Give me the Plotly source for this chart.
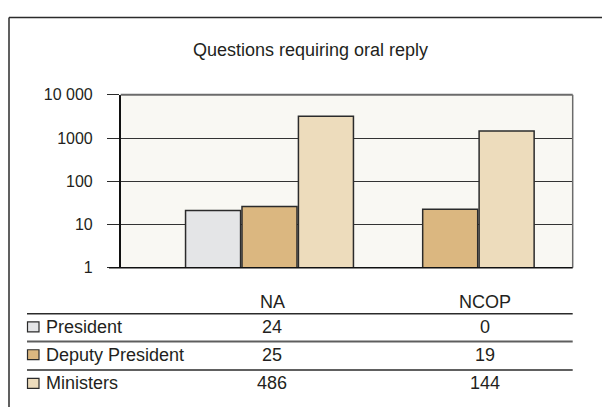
import plotly.graph_objects as go

# ---- data ----
categories = ["NA", "NCOP"]
series_names = ["President", "Deputy President", "Ministers"]
# bar heights as drawn (log scale)
president_bars = [21, None]
deputy_bars = [26, 22.5]
ministers_bars = [3200, 1450]
# values printed in the table under the chart
table_na = ["24", "25", "486"]
table_ncop = ["0", "19", "144"]
y_tickvals = [1, 10, 100, 1000, 10000]
y_ticktext = ["1", "10", "100", "1000", "10 000"]
colors = ["#e4e5e7", "#dbb780", "#eddcbc"]

W, H = 602, 416
FONT = "Liberation Sans, Arial, sans-serif"
TXT = "#231f20"
DARK = "#2b2b2b"


def px(x):
    return x / W


def py(y):
    return 1 - y / H


fig = go.Figure()
for name, vals, col in zip(series_names, [president_bars, deputy_bars, ministers_bars], colors):
    fig.add_trace(go.Bar(
        x=categories, y=vals, name=name,
        marker=dict(color=col, line=dict(color=DARK, width=1.5)),
        showlegend=False,
    ))

x0, x1 = 120.7, 572.7
y0, y1 = 90.5, 270.7

fig.update_layout(
    width=W, height=H,
    margin=dict(l=0, r=0, t=0, b=0),
    paper_bgcolor="white",
    plot_bgcolor="#f9f8f3",
    barmode="group",
    bargap=0.063,
    bargroupgap=0.025,
    font=dict(family=FONT, color=TXT),
    xaxis=dict(
        domain=[px(x0), px(x1)],
        range=[-0.8235, 1.678],
        showticklabels=False, ticks="", showgrid=False,
        showline=False, zeroline=False, fixedrange=True,
    ),
    yaxis=dict(
        domain=[py(y1), py(y0)],
        type="log", range=[0, 4],
        tickvals=y_tickvals, ticktext=y_ticktext,
        ticks="outside", ticklen=12, tickwidth=1.3, tickcolor=DARK,
        ticklabelstandoff=11,
        tickfont=dict(size=16, family=FONT, color=TXT),
        showgrid=True, gridcolor="#333333", gridwidth=1.4,
        showline=True, linecolor="#111", linewidth=1.5,
        zeroline=False, fixedrange=True,
    ),
)

shapes = []
# plot frame (top / right gray, bottom black)
shapes.append(dict(type="line", xref="paper", yref="paper", x0=px(x0), x1=px(x1), y0=py(y0), y1=py(y0),
                   line=dict(color="#6b6b6b", width=2)))
shapes.append(dict(type="line", xref="paper", yref="paper", x0=px(x1), x1=px(x1), y0=py(y0), y1=py(y1),
                   line=dict(color="#6b6b6b", width=1.5)))
shapes.append(dict(type="line", xref="paper", yref="paper", x0=px(109), x1=px(x1), y0=py(y1), y1=py(y1),
                   line=dict(color="#111", width=1.5)))
# outer frame
shapes.append(dict(type="line", xref="paper", yref="paper", x0=px(9), x1=px(9), y0=0, y1=py(10),
                   line=dict(color=DARK, width=1.5)))
shapes.append(dict(type="line", xref="paper", yref="paper", x0=px(9), x1=1, y0=py(10), y1=py(10),
                   line=dict(color=DARK, width=1.5)))

# table rules
for yy, c, w in [(318.7, DARK, 1.5), (347.7, "#5e5e5e", 2.2), (377.3, DARK, 1.5)]:
    shapes.append(dict(type="line", xref="paper", yref="paper", x0=px(27), x1=px(x1), y0=py(yy), y1=py(yy),
                       line=dict(color=c, width=w)))

row_y = [332.5, 361.5, 391.3]
for ry, col in zip(row_y, colors):
    shapes.append(dict(type="rect", xref="paper", yref="paper",
                       x0=px(27.5), x1=px(39), y0=py(ry + 5.2), y1=py(ry - 5.2),
                       fillcolor=col, line=dict(color=DARK, width=1.2)))

annotations = []
annotations.append(dict(text="Questions requiring oral reply", x=px(310), y=py(44), xref="paper", yref="paper",
                        showarrow=False, xanchor="center", yanchor="middle",
                        font=dict(size=18, family=FONT, color=TXT)))
col_x = [272, 485]
for cx, label in zip(col_x, categories):
    annotations.append(dict(text=label, x=px(cx), y=py(307), xref="paper", yref="paper",
                            showarrow=False, xanchor="center", yanchor="middle",
                            font=dict(size=18, family=FONT, color=TXT)))
for ry, name, a, b in zip(row_y, series_names, table_na, table_ncop):
    annotations.append(dict(text=name, x=px(44), y=py(ry), xref="paper", yref="paper",
                            showarrow=False, xanchor="left", yanchor="middle",
                            font=dict(size=18, family=FONT, color=TXT)))
    for cx, v in zip(col_x, [a, b]):
        annotations.append(dict(text=v, x=px(cx), y=py(ry), xref="paper", yref="paper",
                                showarrow=False, xanchor="center", yanchor="middle",
                                font=dict(size=18, family=FONT, color=TXT)))

fig.update_layout(shapes=shapes, annotations=annotations)
fig.write_html(
    "out.html",
    config={"displayModeBar": False},
    post_script="document.body.style.margin='0';document.body.style.overflow='hidden';",
)
